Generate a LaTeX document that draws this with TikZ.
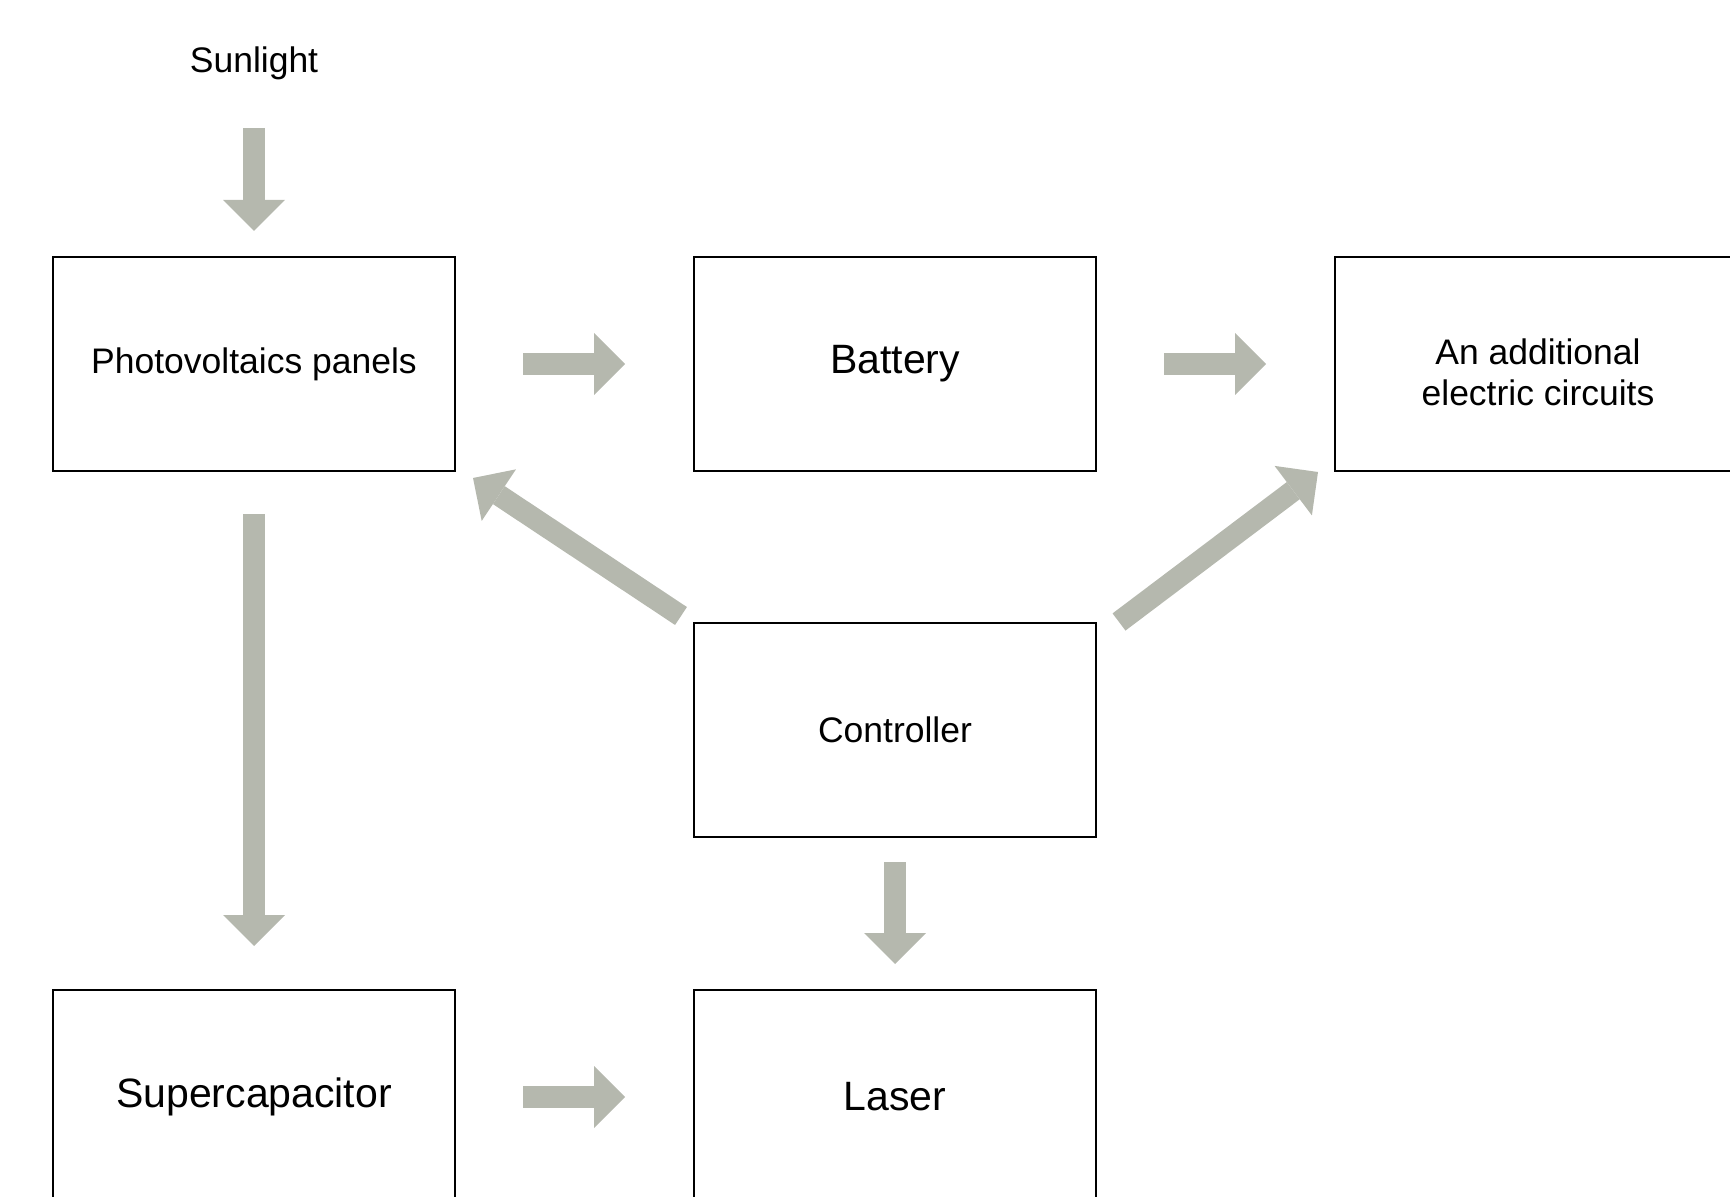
\documentclass[tikz,border=0pt]{standalone}
\usepackage{fontspec}
\setmainfont{Liberation Sans}
\usetikzlibrary{arrows.meta}
\definecolor{flowgray}{RGB}{181,184,174}

\begin{document}
\begin{tikzpicture}[x=0.5pt,y=-0.5pt,
    box/.style={draw=black,line width=1pt,minimum width=201pt,minimum height=107pt,inner sep=0pt,align=center,font=\fontsize{17.75pt}{20.5pt}\selectfont},
    big/.style={font=\fontsize{20.5pt}{24pt}\selectfont},
    flow/.style={draw=flowgray,line width=10.75pt,-{Triangle[width=31pt,length=15.5pt,line width=0pt]}}]
    \useasboundingbox (0,0) rectangle (1730,1197);
    \clip (0,0) rectangle (1730,1197);
    \node[font=\fontsize{17.75pt}{20.5pt}\selectfont,anchor=base] (sun) at (254,73) {Sunlight};
    \node[box] (pv) at (254,364) {Photovoltaics panels};
    \node[box,big] (bat) at (895,364) {Battery};
    \node[box] (add) at (1536,364) {};
    \node[align=center,inner sep=0pt,font=\fontsize{17.75pt}{20.5pt}\selectfont] (addtext) at (1538,372) {An additional\\ electric circuits};
    \node[box] (ctrl) at (895,730) {Controller};
    \node[box,big] (sup) at (254,1097) {Supercapacitor};
    \node[box,big] (laser) at (895,1097) {Laser};
    \draw[flow,shorten <=27.5pt,shorten >=12.5pt] (sun.base) -- (pv.north);
    \draw[flow,shorten <=33.5pt,shorten >=34pt] (pv.east) -- (bat.west);
    \draw[flow,shorten <=33.5pt,shorten >=34pt] (bat.east) -- (add.west);
    \draw[flow,shorten <=21pt,shorten >=21.5pt] (pv.south) -- (sup.north);
    \draw[flow,shorten <=33.5pt,shorten >=34pt] (sup.east) -- (laser.west);
    \draw[flow,shorten <=12pt,shorten >=12.5pt] (ctrl.south) -- (laser.north);
    \draw[flow] ([xshift=-6pt,yshift=3pt]ctrl.north west) -- ([xshift=8.5pt,yshift=-3pt]pv.south east);
    \draw[flow] ([xshift=11pt]ctrl.north east) -- ([xshift=-8pt]add.south west);
\end{tikzpicture}
\end{document}
